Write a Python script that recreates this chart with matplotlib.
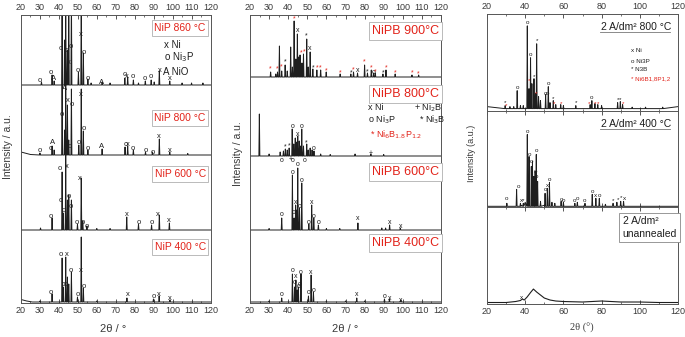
import numpy as np
import matplotlib
matplotlib.use("Agg")
import matplotlib.pyplot as plt
from matplotlib.ticker import MultipleLocator

plt.rcParams['font.family'] = ['Liberation Sans', 'DejaVu Sans']

# ---------------- panel 1 : NiP (peak position deg, height) ----------------
nip860_pos = [30.8, 36.4, 37.5, 41.7, 43.0, 43.6, 44.5, 45.2, 46.6, 50.3, 51.8, 52.9, 55.3, 57.0,
              62.8, 67.0, 74.8, 76.3, 79.3, 82.0, 85.6, 88.7, 90.3, 93.0, 98.5, 105.0, 110.0, 116.0]
nip860_h = [3, 10, 4, 90, 45, 90, 35, 90, 90, 13, 90, 32, 6, 2,
            3, 2, 7, 8, 5, 2, 4, 5, 3, 14, 4, 2, 2, 2]
nip860_mk = [(30.0, 5, 'o'), (35.8, 12, 'o'), (37.4, 7, 'A'), (41.1, 36, 'o'), (44.4, 35, 'o'),
             (45.0, 22, 'x'), (46.2, 38, 'o'), (50.2, 14, 'o'), (51.5, 50, 'x'), (52.9, 32, 'o'),
             (55.2, 6, 'o'), (62.5, 3, 'A'), (74.8, 10, 'o'), (76.0, 9, 'x'), (79.2, 9, 'o'),
             (85.4, 6, 'o'), (88.5, 8, 'o'), (93.1, 15, 'x'), (98.6, 7, 'x')]

nip800_pos = [30.0, 36.4, 37.5, 41.7, 43.0, 43.6, 44.5, 45.2, 46.6, 50.5, 51.8, 52.9, 55.3, 62.8,
              74.9, 76.3, 79.3, 85.7, 89.4, 93.0, 98.5, 108.0]
nip800_h = [2, 9, 5, 70, 25, 70, 50, 15, 66, 10, 66, 24, 5, 6,
            8, 9, 5, 3, 3, 16, 3, 1.5]
nip800_bx = [20, 22, 25, 120]
nip800_by = [3, 2, 0.5, 0]
nip800_mk = [(42.8, 66, 'A'), (44.6, 55, 'x'), (46.7, 51, 'o'), (51.5, 61, 'x'), (41.4, 40, 'o'),
             (52.9, 26, 'o'), (50.6, 12, 'o'), (45.5, 8, 'o'), (30.0, 5, 'o'), (35.6, 7, 'o'),
             (36.7, 12, 'A'), (55.0, 7, 'o'), (62.5, 8, 'A'), (75.2, 10, 'o'), (76.2, 10, 'x'),
             (78.9, 7, 'o'), (85.7, 5, 'o'), (89.4, 3, 'o'), (93.0, 19, 'x'), (98.6, 5, 'x')]

nip600_pos = [30.3, 36.4, 41.7, 42.3, 43.6, 44.5, 45.2, 46.6, 49.8, 51.8, 52.6, 54.8, 60.0, 67.0,
              75.8, 82.0, 88.9, 93.0, 98.3]
nip600_h = [2, 12, 58, 17, 75, 30, 35, 30, 6, 52, 9, 4, 1.5, 1.5,
            13, 6, 5, 15, 7]
nip600_mk = [(40.6, 62, 'o'), (44.1, 63, 'x'), (40.9, 29, 'o'), (42.3, 19, 'o'), (45.0, 33, 'o'),
             (46.2, 24, 'o'), (51.1, 52, 'x'), (35.8, 13, 'o'), (49.4, 8, 'o'), (52.5, 8, 'o'),
             (54.6, 3, 'o'), (75.7, 15, 'x'), (81.9, 8, 'o'), (88.9, 7, 'o'), (92.4, 16, 'x'),
             (98.0, 9, 'x')]

nip400_pos = [30.0, 36.4, 41.7, 42.3, 43.6, 44.5, 45.2, 46.6, 49.8, 51.8, 52.9, 60.0,
              75.9, 89.9, 92.9, 98.6]
nip400_h = [1, 8, 44, 15, 45, 25, 18, 30, 5, 65, 14, 1, 4, 3, 6, 2]
nip400_bx = [20, 23, 26, 120]
nip400_by = [2.5, 1, 0, 0]
nip400_mk = [(41.1, 47, 'o'), (44.4, 47, 'x'), (46.3, 31, 'o'), (51.5, 32, 'x'), (42.3, 17, 'o'),
             (43.7, 18, 'o'), (52.9, 16, 'o'), (49.7, 8, 'o'), (35.8, 9, 'o'), (76.2, 7, 'x'),
             (89.8, 6, 'o'), (92.8, 8, 'x'), (98.6, 3, 'x')]

nip_offsets = [218, 148, 73, 1]
nip_labels = ['NiP 860 °C', 'NiP 800 °C', 'NiP 600 °C', 'NiP 400 °C']
nip_label_y = [275, 185, 129, 56]

# ---------------- panel 2 : NiPB ----------------
pb900_pos = [30.8, 33.5, 34.4, 35.4, 36.6, 38.4, 39.5, 41.3, 42.2, 43.1, 44.0, 44.8, 45.5, 46.2,
             47.2, 48.0, 49.7, 50.5, 51.5, 52.9, 55.0, 57.0, 59.9, 67.2, 72.8, 74.2, 76.3, 80.0,
             81.5, 83.5, 84.7, 85.6, 89.6, 91.2, 96.0, 104.8, 108.3]
pb900_h = [5, 3, 5, 31, 6, 12, 6, 30, 10, 56, 18, 43, 20, 22,
           14, 23, 38, 10, 25, 8, 7, 7, 5, 3, 3, 5, 4, 12,
           4, 7, 4, 4, 3, 7, 3, 2, 2]
pb900_mk = [(30.8, 8, 'R'), (34.0, 8, 'R'), (36.6, 10, 'R'), (38.4, 15, '*'), (43.1, 58, 'R'),
            (44.8, 47, 'x'), (46.6, 24, 'R'), (48.3, 25, 'R'), (49.7, 41, '*'), (51.5, 28, 'x'),
            (52.9, 9, '*'), (55.0, 9, 'R'), (57.0, 9, 'R'), (59.9, 6, 'R'), (67.2, 4, 'R'),
            (72.8, 4, '*'), (74.2, 7, 'R'), (76.3, 6, 'x'), (80.0, 15, 'R'), (81.5, 5, '*'),
            (83.5, 9, 'R'), (84.7, 4, 'o'), (85.6, 5, 'R'), (89.6, 4, '*'), (91.2, 9, 'R'),
            (96.0, 4, 'R'), (104.8, 4, 'R'), (108.3, 3, 'R')]

pb800_pos = [24.9, 30.0, 35.8, 37.5, 38.5, 39.5, 40.5, 42.1, 42.9, 43.7, 44.5, 45.0, 45.8, 46.5,
             47.1, 48.0, 49.7, 50.5, 51.5, 52.5, 53.5, 57.0, 62.0, 75.0, 83.3, 90.0]
pb800_h = [42, 2, 4, 5, 7, 6, 8, 27, 12, 18, 14, 20, 15, 10,
           27, 10, 12, 6, 8, 6, 5, 2, 1.5, 2, 2, 1.5]
pb800_mk = [(42.2, 29, 'o'), (47.1, 29, 'o'), (45.0, 22, 'x'), (49.7, 13, '*'), (38.4, 9, '*'),
            (40.6, 10, '*'), (53.2, 7, 'o'), (83.3, 3, '+'), (36.6, -5, 'o'), (41.4, -4, '+'),
            (42.5, -4, 'o'), (44.8, -8, 'o'), (48.8, -5, 'o')]

pb600_pos = [30.0, 36.6, 42.2, 43.1, 43.9, 44.5, 45.0, 45.9, 47.1, 50.8, 52.3, 53.4, 55.8, 60.0,
             67.0, 76.5, 89.0, 91.0, 93.1, 98.7]
pb600_h = [1.5, 12, 55, 12, 25, 20, 62, 22, 47, 6, 25, 12, 5, 1.5,
           1.5, 7, 2, 2, 5, 2]
pb600_mk = [(36.6, 16, 'o'), (42.2, 58, 'o'), (47.1, 50, 'o'), (43.1, 17, 'o'), (43.9, 27, 'x'),
            (45.9, 24, 'o'), (52.3, 27, 'x'), (53.4, 14, 'o'), (50.8, 8, 'o'), (55.8, 7, 'o'),
            (76.5, 11, 'x'), (93.1, 8, 'x'), (98.7, 3, 'x')]

pb400_pos = [30.0, 36.6, 42.2, 43.3, 44.0, 44.7, 45.3, 46.7, 50.6, 52.0, 53.2, 60.0, 70.0,
             75.9, 80.0, 90.4, 93.0, 99.0]
pb400_h = [1, 4, 28, 15, 22, 12, 15, 28, 6, 27, 10, 1, 1, 4, 1, 3, 3, 2]
pb400_mk = [(42.2, 32, 'o'), (43.3, 19, 'o'), (44.0, 25, 'x'), (45.3, 15, 'o'), (46.2, 17, 'o'),
            (46.7, 29, 'o'), (52.0, 29, 'x'), (53.2, 12, 'o'), (50.6, 9, 'o'), (36.6, 8, 'o'),
            (75.9, 7, 'x'), (90.4, 6, 'o'), (93.0, 4, 'x'), (99.0, 2, 'x')]

pb_offsets = [226, 147, 73, 1]
pb_labels = ['NiPB 900°C', 'NiPB 800°C', 'NiPB 600°C', 'NiPB 400°C']
pb_label_y = [272, 209, 131, 60]

# ---------------- panel 3 : 2 A/dm2 ----------------
a800_pos = [29.5, 32.0, 34.0, 35.8, 37.5, 39.0, 41.1, 42.0, 42.8, 43.5, 44.6, 45.4, 46.0, 47.0,
            48.0, 50.7, 52.1, 53.0, 54.7, 56.0, 58.6, 60.0, 66.5, 74.0, 74.9, 76.5, 78.0, 80.0,
            88.4, 89.8, 91.0, 96.0, 103.0, 112.0]
a800_h = [3, 2, 2, 18, 3, 3, 83, 20, 51, 25, 30, 15, 65, 12,
          8, 14, 22, 6, 8, 4, 4, 3, 3, 4, 8, 5, 4, 3,
          6, 7, 4, 1.5, 1.5, 1.5]
a800_mk = [(41.1, 86, 'o'), (46.0, 68, '*'), (43.0, 54, 'o'), (44.6, 32, '*'), (41.9, 28, 'R'),
           (35.8, 21, 'o'), (50.4, 15, 'o'), (51.6, 15, 'o'), (52.1, 25, 'o'), (45.8, 15, 'R'),
           (54.7, 10, '*'), (29.3, 6, '*'), (30.2, 3, 'R'), (55.0, 5, 'R'), (58.6, 5, 'R'),
           (66.5, 6, '*'), (74.9, 11, 'o'), (73.5, 5, 'R'), (76.7, 5, 'R'), (78.4, 5, 'R'),
           (88.4, 9, '*'), (89.8, 9, '*'), (91.0, 5, 'R')]

a400_pos = [30.4, 35.5, 37.5, 39.0, 41.1, 42.0, 43.2, 43.8, 44.5, 45.2, 45.8, 46.5, 48.0, 50.4,
            51.6, 52.7, 54.0, 55.5, 58.8, 60.0, 66.0, 67.3, 71.3, 75.1, 77.0, 78.8, 82.0, 86.0,
            88.0, 90.0, 91.5]
a400_h = [3, 17, 3, 3, 72, 50, 40, 45, 30, 35, 52, 25, 5, 13,
          18, 24, 4, 3, 5, 4, 3, 4, 3, 12, 8, 8, 2, 3,
          4, 5, 5]
a400_bx = [20, 38, 40, 44, 48, 50, 120]
a400_by = [0, 1, 4, 8, 4, 1, 0]
a400_mk = [(41.1, 75, 'o'), (42.0, 52, 'o'), (43.4, 45, 'o'), (45.8, 56, 'o'), (45.2, 35, 'o'),
           (46.1, 30, 'o'), (36.5, 20, 'o'), (51.6, 21, 'x'), (52.7, 27, 'o'), (50.4, 17, 'o'),
           (30.4, 8, 'o'), (37.9, 6, 'x'), (39.0, 6, '*'), (58.8, 7, 'o'), (60.0, 6, 'o'),
           (66.0, 6, 'o'), (67.3, 8, 'o'), (71.3, 6, 'o'), (75.1, 15, 'o'), (77.0, 11, 'x'),
           (78.8, 11, 'o'), (86.0, 6, '*'), (88.7, 7, '*'), (90.0, 9, '*'), (92.2, 8, 'x')]

unann_x = [20, 30, 35, 37.5, 38.5, 39.5, 41, 43, 44.3, 46, 48, 50, 53, 56, 60, 70, 75, 80, 85,
           90, 100, 110, 120]
unann_y = [1.5, 1.5, 2.5, 3.5, 5, 4, 7, 12, 15, 12, 9, 6, 4, 3, 2.5, 2, 2.5, 3, 2.5,
           2, 2, 1.5, 1.5]
unann_mk = [(37.9, 7, 'x')]

RED = '#e2231a'
LINE = '#1e1e1e'
GREY = '#3a3a3a'


def trace(pos, h, bx=(20, 120), by=(0, 0), w=0.25):
    pts = list(zip(bx, by))
    for p, hh in zip(pos, h):
        pts += [(p - w, 0), (p, hh), (p + w, 0)]
    pts.sort()
    x, y = zip(*pts)
    return np.array(x), np.array(y)


def marks(ax, mk, off, size=6):
    for p, y, s in mk:
        if s == 'R':
            ax.text(p, off + y, '*', color=RED, fontsize=size, ha='center', va='center')
        else:
            ax.text(p, off + y, s, color=LINE, fontsize=size, ha='center', va='center')


def style_axes(ax, major, minor, top_lab=True, bot_lab=True):
    ax.set_xlim(20, 120)
    ax.xaxis.set_major_locator(MultipleLocator(major))
    ax.xaxis.set_minor_locator(MultipleLocator(minor))
    ax.tick_params(axis='x', which='both', direction='in', top=True, bottom=True,
                   labeltop=top_lab, labelbottom=bot_lab, labelsize=6.5, colors=GREY,
                   pad=2)
    ax.tick_params(axis='x', which='major', length=3, width=0.6)
    ax.tick_params(axis='x', which='minor', length=1.5, width=0.5)
    ax.set_yticks([])
    for s in ax.spines.values():
        s.set_color('#555555')
        s.set_linewidth(0.7)


fig = plt.figure(figsize=(6.85, 3.37), dpi=100)
box = dict(boxstyle='square,pad=0.25', fc='white', ec='#b0b0b0', lw=0.6)

# panel 1
ax1 = fig.add_axes([21 / 685, 34 / 337, 189.5 / 685, 288 / 337])
nip_data = [(nip860_pos, nip860_h, (20, 120), (0, 0), nip860_mk),
            (nip800_pos, nip800_h, nip800_bx, nip800_by, nip800_mk),
            (nip600_pos, nip600_h, (20, 120), (0, 0), nip600_mk),
            (nip400_pos, nip400_h, nip400_bx, nip400_by, nip400_mk)]
for (pos, h, bx, by, mk), off, lab, ly in zip(nip_data, nip_offsets, nip_labels, nip_label_y):
    x, y = trace(pos, h, bx, by)
    ax1.plot(x, y + off, color=LINE, lw=0.7)
    marks(ax1, mk, off, size=5.5)
    ax1.text(104, ly, lab, color=RED, fontsize=7.5, ha='center', va='center', bbox=box)
ax1.text(95.5, 258, 'x Ni', fontsize=7, va='center', color=LINE)
ax1.text(95.5, 246, 'o Ni$_3$P', fontsize=7, va='center', color=LINE)
ax1.text(95.0, 231, 'A NiO', fontsize=7, va='center', color=LINE)
ax1.set_ylim(0, 288)
style_axes(ax1, 10, 5)

# panel 2
ax2 = fig.add_axes([250 / 685, 34 / 337, 191 / 685, 288 / 337])
pb_data = [(pb900_pos, pb900_h, pb900_mk), (pb800_pos, pb800_h, pb800_mk),
           (pb600_pos, pb600_h, pb600_mk), (pb400_pos, pb400_h, pb400_mk)]
for (pos, h, mk), off, lab, ly in zip(pb_data, pb_offsets, pb_labels, pb_label_y):
    x, y = trace(pos, h)
    ax2.plot(x, y + off, color=LINE, lw=0.7)
    marks(ax2, mk, off, size=5)
    ax2.text(101.5, ly, lab, color=RED, fontsize=9, ha='center', va='center', bbox=box)
ax2.text(81.9, 195, 'x Ni', fontsize=6.5, va='center', color=LINE)
ax2.text(106, 195, '+ Ni$_2$B', fontsize=6.5, va='center', color=LINE)
ax2.text(81.9, 183, 'o Ni$_3$P', fontsize=6.5, va='center', color=LINE)
ax2.text(108.5, 183, '* Ni$_3$B', fontsize=6.5, va='center', color=LINE)
ax2.text(83, 168, '* Ni$_6$B$_{1.8}$P$_{1.2}$', fontsize=6.5, va='center', color=RED)
ax2.set_ylim(0, 288)
style_axes(ax2, 10, 5)

# panel 3
h3 = 96.7 / 337
p3 = [fig.add_axes([487 / 685, (33 + (2 - i) * 96.7) / 337, 191 / 685, h3]) for i in range(3)]
x, y = trace(a800_pos, a800_h, by=(2, 2))
p3[0].plot(x, y + 2, color=LINE, lw=0.7)
marks(p3[0], a800_mk, 2, size=4.5)
x, y = trace(a400_pos, a400_h, a400_bx, a400_by)
p3[1].plot(x, y + 1, color=LINE, lw=0.7)
marks(p3[1], a400_mk, 1, size=4.5)
p3[2].plot(unann_x, unann_y, color=LINE, lw=0.8)
marks(p3[2], unann_mk, 0, size=4.5)
for i, a in enumerate(p3):
    a.set_ylim(0, 97)
    style_axes(a, 20, 10, top_lab=(i == 0), bot_lab=(i == 2))

p3[0].text(0.78, 0.865, '2 A/dm² 800 °C', transform=p3[0].transAxes, fontsize=7.5,
           ha='center', va='center', color=LINE)
p3[0].plot([0.59, 0.96], [0.81, 0.81], transform=p3[0].transAxes, color='#777777', lw=0.6)
for t, yy, c in [('x Ni', 0.62, LINE), ('o Ni3P', 0.505, LINE), ('* N3B', 0.42, LINE),
                 ('* Ni6B1,8P1,2', 0.33, RED)]:
    p3[0].text(0.755, yy, t, transform=p3[0].transAxes, fontsize=4.5, va='center', color=c)
p3[1].text(0.78, 0.865, '2 A/dm² 400 °C', transform=p3[1].transAxes, fontsize=7.5,
           ha='center', va='center', color=LINE)
p3[1].plot([0.59, 0.96], [0.81, 0.81], transform=p3[1].transAxes, color='#777777', lw=0.6)
p3[2].text(0.71, 0.79, '2 A/dm²\nunannealed', transform=p3[2].transAxes, fontsize=7.5,
           ha='left', va='center', color=LINE, linespacing=1.3,
           bbox=dict(boxstyle='square,pad=0.3', fc='white', ec='#888888', lw=0.6))

# axis titles
fig.text(8 / 685, 1 - 147 / 337, 'Intensity / a.u.', rotation=90, fontsize=7.5,
         ha='center', va='center', color=GREY)
fig.text(238 / 685, 1 - 154 / 337, 'Intensity / a.u.', rotation=90, fontsize=7.5,
         ha='center', va='center', color=GREY)
fig.text(472 / 685, 1 - 153 / 337, 'Intensity (a.u.)', rotation=90, fontsize=6.5,
         ha='center', va='center', color=GREY)
fig.text(113 / 685, 1 - 329 / 337, '2θ / °', fontsize=8, ha='center', va='center', color=GREY)
fig.text(345 / 685, 1 - 329 / 337, '2θ / °', fontsize=8, ha='center', va='center', color=GREY)
fig.text(582 / 685, 1 - 328 / 337, '2θ (°)', fontsize=7.5, ha='center', va='center',
         color=GREY, family=['Liberation Serif', 'DejaVu Serif'])

fig.savefig('out.png', dpi=100)
